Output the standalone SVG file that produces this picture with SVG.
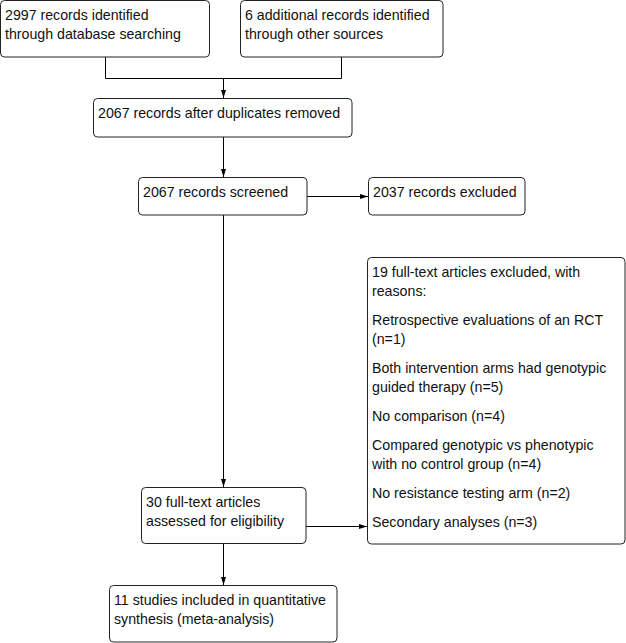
<svg xmlns="http://www.w3.org/2000/svg" width="626" height="643" viewBox="0 0 626 643">
<style>
.box{fill:#fff;stroke:#222;stroke-width:1}
.t{font-family:"Liberation Sans",Arial,sans-serif;font-size:14.2px;fill:#111}
.c{fill:none;stroke:#000;stroke-width:1}
</style>
<defs>
<marker id="ah" markerWidth="8" markerHeight="6" refX="8" refY="3" orient="auto" markerUnits="userSpaceOnUse">
<path d="M0,0.5 L8,3 L0,5.5 Z" fill="#000"/>
</marker>
</defs>
<rect width="626" height="643" fill="#fff"/>
<g id="connectors">
<path class="c" d="M105.5,57 V78.5 H341.5 V57"/>
<path class="c" d="M223.5,78.5 V98" marker-end="url(#ah)"/>
<path class="c" d="M223.5,137 V177" marker-end="url(#ah)"/>
<path class="c" d="M307,196.5 H368" marker-end="url(#ah)"/>
<path class="c" d="M223.5,215 V487" marker-end="url(#ah)"/>
<path class="c" d="M306,526.5 H367" marker-end="url(#ah)"/>
<path class="c" d="M223.5,543 V585" marker-end="url(#ah)"/>
</g>
<g id="n1">
<rect class="box" x="0.5" y="0.5" width="209" height="56.5" rx="4"/>
<text class="t" x="5" y="20">2997 records identified</text>
<text class="t" x="5" y="39">through database searching</text>
</g>
<g id="n2">
<rect class="box" x="240.5" y="0.5" width="202.5" height="56.5" rx="4"/>
<text class="t" x="245" y="20">6 additional records identified</text>
<text class="t" x="245" y="39">through other sources</text>
</g>
<g id="n3">
<rect class="box" x="93.5" y="98.5" width="258.5" height="38.5" rx="4"/>
<text class="t" x="98" y="118">2067 records after duplicates removed</text>
</g>
<g id="n4">
<rect class="box" x="138.5" y="177.5" width="168.5" height="37.5" rx="4"/>
<text class="t" x="143" y="197">2067 records screened</text>
</g>
<g id="n5">
<rect class="box" x="368.5" y="177.5" width="156.5" height="37.5" rx="4"/>
<text class="t" x="373" y="197">2037 records excluded</text>
</g>
<g id="n6">
<rect class="box" x="367.5" y="257.5" width="257.5" height="286.5" rx="4"/>
<text class="t" x="372" y="277">19 full-text articles excluded, with</text>
<text class="t" x="372" y="296">reasons:</text>
<text class="t" x="372" y="325">Retrospective evaluations of an RCT</text>
<text class="t" x="372" y="344">(n=1)</text>
<text class="t" x="372" y="373">Both intervention arms had genotypic</text>
<text class="t" x="372" y="392">guided therapy (n=5)</text>
<text class="t" x="372" y="421">No comparison (n=4)</text>
<text class="t" x="372" y="450">Compared genotypic vs phenotypic</text>
<text class="t" x="372" y="469">with no control group (n=4)</text>
<text class="t" x="372" y="498">No resistance testing arm (n=2)</text>
<text class="t" x="372" y="527">Secondary analyses (n=3)</text>
</g>
<g id="n7">
<rect class="box" x="141.5" y="487.5" width="164.5" height="56" rx="4"/>
<text class="t" x="146" y="507">30 full-text articles</text>
<text class="t" x="146" y="526">assessed for eligibility</text>
</g>
<g id="n8">
<rect class="box" x="109.5" y="585.5" width="227.5" height="56.5" rx="4"/>
<text class="t" x="114" y="605">11 studies included in quantitative</text>
<text class="t" x="114" y="624">synthesis (meta-analysis)</text>
</g>
</svg>
